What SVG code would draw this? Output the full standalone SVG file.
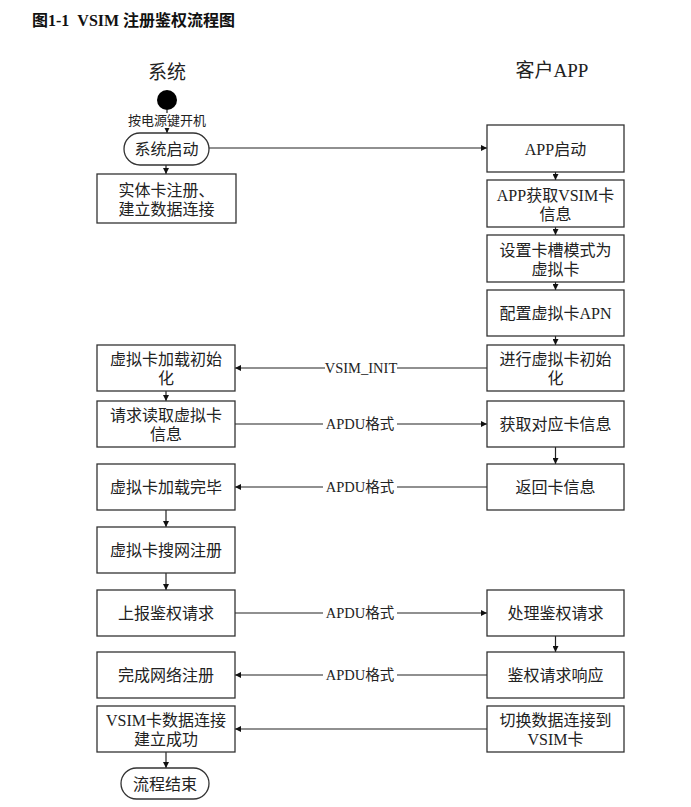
<svg xmlns="http://www.w3.org/2000/svg" width="691" height="807" viewBox="0 0 691 807">
<defs>
<marker id="ah" viewBox="0 0 10 10" refX="10" refY="5" markerWidth="6" markerHeight="6" markerUnits="userSpaceOnUse" orient="auto"><path d="M0,0 L10,5 L0,10 z" fill="#111"/></marker>
<style>
.box{fill:#fff;stroke:#333;stroke-width:1.3}
.t{font-family:"Liberation Serif","Noto Sans CJK SC",serif;font-size:16px;fill:#222;text-anchor:middle}
.h{font-family:"Liberation Serif","Noto Sans CJK SC",serif;font-size:19px;fill:#222;text-anchor:middle}
.lbl{font-family:"Liberation Serif","Noto Sans CJK SC",serif;font-size:14.5px;fill:#222;text-anchor:middle}
.ttl{font-family:"Liberation Serif","Noto Sans CJK SC",serif;font-size:16px;font-weight:bold;fill:#111}
.c{stroke:#222;stroke-width:1.2;fill:none;marker-end:url(#ah)}
.bg{fill:#fff}
</style>
</defs>
<rect width="691" height="807" fill="#fff"/>
<text class="ttl" x="32" y="26" xml:space="preserve">图1-1  VSIM 注册鉴权流程图</text>
<text class="h" x="167" y="79">系统</text>
<text class="h" x="552" y="77">客户APP</text>

<g id="connectors">
<line class="c" x1="167" y1="110" x2="167" y2="133"/>
<line class="c" x1="209" y1="148" x2="487" y2="148"/>
<line class="c" x1="166" y1="165" x2="166" y2="174"/>
<line class="c" x1="555.5" y1="172" x2="555.5" y2="180"/>
<line class="c" x1="555.5" y1="227" x2="555.5" y2="235"/>
<line class="c" x1="555.5" y1="282" x2="555.5" y2="290"/>
<line class="c" x1="555.5" y1="336" x2="555.5" y2="345"/>
<line class="c" x1="487" y1="368" x2="235" y2="368"/>
<line class="c" x1="166" y1="391" x2="166" y2="401"/>
<line class="c" x1="235" y1="424" x2="487" y2="424"/>
<line class="c" x1="555.5" y1="447" x2="555.5" y2="464"/>
<line class="c" x1="487" y1="487" x2="235" y2="487"/>
<line class="c" x1="166" y1="510" x2="166" y2="527"/>
<line class="c" x1="166" y1="573" x2="166" y2="590"/>
<line class="c" x1="235" y1="613" x2="487" y2="613"/>
<line class="c" x1="555.5" y1="636" x2="555.5" y2="652"/>
<line class="c" x1="487" y1="675" x2="235" y2="675"/>
<line class="c" x1="487" y1="729" x2="235" y2="729"/>
<line class="c" x1="166" y1="752" x2="166" y2="768"/>
<rect class="bg" x="120" y="113" width="94" height="15"/>
<text class="lbl" x="167" y="125" style="font-size:13px">按电源键开机</text>
<rect class="bg" x="325" y="360" width="72" height="16"/>
<text class="lbl" x="361" y="373">VSIM_INIT</text>
<rect class="bg" x="323" y="416" width="74" height="16"/>
<text class="lbl" x="360" y="429">APDU格式</text>
<rect class="bg" x="323" y="479" width="74" height="16"/>
<text class="lbl" x="360" y="492">APDU格式</text>
<rect class="bg" x="323" y="605" width="74" height="16"/>
<text class="lbl" x="360" y="618">APDU格式</text>
<rect class="bg" x="323" y="667" width="74" height="16"/>
<text class="lbl" x="360" y="680">APDU格式</text>
</g>

<g id="n_start"><circle cx="167" cy="100" r="10" fill="#000"/></g>
<g id="n_sys"><rect class="box" x="124" y="133" width="85" height="32" rx="16"/><text class="t" x="166.5" y="155">系统启动</text></g>
<g id="n_real"><rect class="box" x="97" y="174" width="139" height="49"/><text class="t" x="166.5" y="196">实体卡注册、</text><text class="t" x="166.5" y="215">建立数据连接</text></g>

<g id="n_app"><rect class="box" x="487" y="125" width="137" height="47"/><text class="t" x="555.5" y="154.5">APP启动</text></g>
<g id="n_getinfo"><rect class="box" x="487" y="180" width="137" height="47"/><text class="t" x="555.5" y="201">APP获取VSIM卡</text><text class="t" x="555.5" y="220">信息</text></g>
<g id="n_slot"><rect class="box" x="487" y="235" width="137" height="47"/><text class="t" x="555.5" y="256">设置卡槽模式为</text><text class="t" x="555.5" y="275">虚拟卡</text></g>
<g id="n_apn"><rect class="box" x="487" y="290" width="137" height="46"/><text class="t" x="555.5" y="319">配置虚拟卡APN</text></g>
<g id="n_init"><rect class="box" x="487" y="345" width="137" height="46"/><text class="t" x="555.5" y="365">进行虚拟卡初始</text><text class="t" x="555.5" y="384">化</text></g>
<g id="n_vload"><rect class="box" x="97" y="345" width="138" height="46"/><text class="t" x="166" y="365">虚拟卡加载初始</text><text class="t" x="166" y="384">化</text></g>
<g id="n_req"><rect class="box" x="97" y="401" width="138" height="46"/><text class="t" x="166" y="421">请求读取虚拟卡</text><text class="t" x="166" y="440">信息</text></g>
<g id="n_getcard"><rect class="box" x="487" y="401" width="137" height="46"/><text class="t" x="555.5" y="430">获取对应卡信息</text></g>
<g id="n_done"><rect class="box" x="97" y="464" width="138" height="46"/><text class="t" x="166" y="493">虚拟卡加载完毕</text></g>
<g id="n_ret"><rect class="box" x="487" y="464" width="137" height="46"/><text class="t" x="555.5" y="493">返回卡信息</text></g>
<g id="n_search"><rect class="box" x="97" y="527" width="138" height="46"/><text class="t" x="166" y="556">虚拟卡搜网注册</text></g>
<g id="n_auth"><rect class="box" x="97" y="590" width="138" height="46"/><text class="t" x="166" y="619">上报鉴权请求</text></g>
<g id="n_proc"><rect class="box" x="487" y="590" width="137" height="46"/><text class="t" x="555.5" y="619">处理鉴权请求</text></g>
<g id="n_reg"><rect class="box" x="97" y="652" width="138" height="46"/><text class="t" x="166" y="681">完成网络注册</text></g>
<g id="n_resp"><rect class="box" x="487" y="652" width="137" height="46"/><text class="t" x="555.5" y="681">鉴权请求响应</text></g>
<g id="n_vsimok"><rect class="box" x="97" y="706" width="138" height="46"/><text class="t" x="166" y="726">VSIM卡数据连接</text><text class="t" x="166" y="745">建立成功</text></g>
<g id="n_switch"><rect class="box" x="487" y="706" width="137" height="46"/><text class="t" x="555.5" y="726">切换数据连接到</text><text class="t" x="555.5" y="745">VSIM卡</text></g>
<g id="n_end"><rect class="box" x="121" y="768" width="88" height="31" rx="15.5"/><text class="t" x="165" y="789.5">流程结束</text></g>
</svg>
